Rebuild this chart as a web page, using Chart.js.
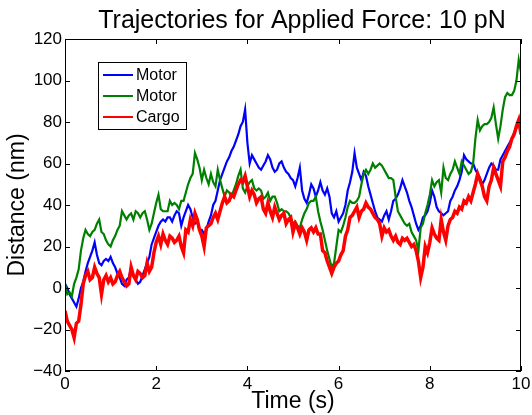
<!DOCTYPE html>
<html>
<head>
<meta charset="utf-8">
<script src="https://cdn.jsdelivr.net/npm/chart.js@4.4.0/dist/chart.umd.min.js"></script>
<style>
html, body { margin: 0; padding: 0; background: #fff; }
</style>
</head>
<body>
<canvas id="trajChart" width="532" height="415"></canvas>
<script>
// one sample every 0.05 s
const STEP = 0.05;

const motor1 = [
  2, 0, -3, -5, -7, -9, -5, 0, 3, 8,
  12, 15, 18, 22, 16, 12, 11, 13, 14, 13,
  15, 12, 10, 7, 5, 2, 1, 4, 5, 10,
  6, 4, 2, 3, 6, 9, 12, 15, 21, 24,
  27, 30, 32, 33, 32, 34, 34, 32, 35, 37,
  36, 30, 34, 37, 40, 38, 34, 31, 32, 28,
  28, 26, 28, 32, 35, 40, 42, 47, 52, 55,
  58, 61, 63, 66, 68, 71, 74, 78, 80, 86,
  70, 60, 64, 62, 60, 58, 57, 59, 61, 64,
  62, 58, 56, 57, 60, 61, 58, 56, 55, 53,
  52, 49, 53, 58, 47, 43, 41, 45, 50, 48,
  44, 47, 51, 47, 45, 48, 44, 36, 34, 37,
  32, 34, 36, 40, 47, 51, 56, 65, 58, 55,
  52, 56, 54, 49, 45, 41, 37, 34, 33, 32,
  35, 37, 33, 37, 42, 43, 45, 48, 52, 49,
  46, 42, 39, 35, 31, 28, 30, 34, 35, 37,
  41, 47, 44, 39, 37, 36, 35, 36, 37, 42,
  44, 47, 49, 52, 56, 64, 62, 61, 60, 60,
  57, 55, 53, 50, 52, 55, 58, 60, 59, 57,
  57, 62, 64, 66, 68, 70, 72, 75, 77, 80,
  80
];

const motor2 = [
  2, -3, -2, -4, 2, 5, 9, 18, 24, 28,
  26, 25, 27, 28, 31, 33, 27, 26, 23, 21,
  20, 23, 25, 28, 30, 37, 35, 33, 35, 36,
  33, 37, 36, 34, 36, 37, 33, 28, 31, 36,
  41, 45, 38, 37, 37, 37, 42, 40, 41, 40,
  38, 42, 42, 46, 50, 53, 55, 65, 62, 58,
  52, 57, 53, 50, 55, 51, 49, 57, 52, 48,
  44, 47, 46, 44, 47, 50, 54, 57, 48, 46,
  49, 51, 52, 48, 47, 48, 47, 43, 44, 46,
  42, 44, 44, 41, 37, 38, 37, 37, 36, 34,
  31, 32, 30, 29, 33, 36, 38, 41, 42, 42,
  44, 37, 32, 28, 23, 18, 14, 10, 12, 20,
  28, 27, 30, 34, 39, 42, 41, 41, 42, 44,
  50, 55, 57, 55, 57, 60, 58, 59, 60, 59,
  57, 55, 53, 53, 52, 44, 37, 35, 33, 31,
  30, 31, 27, 25, 23, 18, 29, 31, 36, 40,
  45, 52, 49, 51, 52, 46, 58, 53, 52, 55,
  57, 61, 58, 55, 61, 59, 57, 55, 56, 60,
  72, 81, 76, 78, 79, 79, 80, 82, 87, 79,
  72, 78, 86, 92, 94, 93, 93, 95, 100, 110,
  104
];

const cargo = [
  -11, -16, -18, -20, -24, -17, -16, -8, 2, 6,
  8, 4, 5, 10, 7, 5, -3, 4, 6, 3,
  5, 2, 3, 6, 8, 5, 3, 1, 2, 10,
  6, 4, 8, 7, 5, 6, 12, 8, 10, 17,
  22, 25, 21, 26, 23, 21, 25, 24, 22, 23,
  25, 20, 17, 28, 27, 33, 30, 36, 33, 28,
  25, 20, 29, 30, 31, 34, 36, 33, 37, 41,
  44, 41, 42, 45, 44, 47, 50, 52, 51, 54,
  49, 44, 47, 45, 41, 43, 44, 38, 36, 41,
  37, 34, 39, 36, 33, 35, 36, 31, 33, 34,
  27, 31, 29, 26, 29, 27, 23, 28, 29, 27,
  29, 26, 26, 18, 17, 13, 10, 7, 10, 12,
  13, 16, 18, 25, 28, 34, 35, 37, 39, 34,
  37, 38, 41, 39, 38, 36, 34, 33, 31, 25,
  29, 27, 28, 25, 23, 25, 22, 21, 24, 23,
  24, 22, 20, 21, 18, 13, 5, 10, 20, 17,
  22, 29, 26, 24, 23, 33, 27, 23, 30, 33,
  34, 37, 36, 39, 38, 42, 41, 44, 42, 46,
  50, 55, 52, 49, 44, 42, 49, 52, 58, 55,
  52, 49, 61, 63, 66, 68, 72, 74, 78, 81,
  74
];

const seriesNames = ['Motor', 'Motor', 'Cargo'];
const seriesColors = ['#0000ff', '#008000', '#ff0000'];
const xTicks = [0, 2, 4, 6, 8, 10];
const yTicks = [-40, -20, 0, 20, 40, 60, 80, 100, 120];
const titleText = 'Trajectories for Applied Force: 10 pN';

const FONT = '"Liberation Sans", Arial, Helvetica, sans-serif';

const time = motor1.map((_, i) => +(i * STEP).toFixed(2));

function toPoints(values) {
    return values.map((v, i) => ({ x: time[i], y: v }));
}

// caja, marcas hacia dentro, titulo y leyenda al estilo matlab
const matlabFrame = {
    id: 'matlabFrame',
    afterDraw(chart) {
        const { ctx, chartArea: a, scales } = chart;
        const len = 5;
        ctx.save();
        ctx.strokeStyle = '#000';
        ctx.lineWidth = 1;
        ctx.strokeRect(a.left + 0.5, a.top + 0.5, a.right - a.left - 1, a.bottom - a.top - 1);

        ctx.beginPath();
        xTicks.forEach(t => {
            const px = Math.round(scales.x.getPixelForValue(t)) + 0.5;
            ctx.moveTo(px, a.bottom); ctx.lineTo(px, a.bottom - len);
            ctx.moveTo(px, a.top); ctx.lineTo(px, a.top + len);
        });
        yTicks.forEach(t => {
            const py = Math.round(scales.y.getPixelForValue(t)) + 0.5;
            ctx.moveTo(a.left, py); ctx.lineTo(a.left + len, py);
            ctx.moveTo(a.right, py); ctx.lineTo(a.right - len, py);
        });
        ctx.stroke();

        // titulo
        ctx.fillStyle = '#000';
        ctx.font = '25px ' + FONT;
        ctx.textAlign = 'center';
        ctx.textBaseline = 'alphabetic';
        ctx.fillText(titleText, (a.left + a.right) / 2 + 9, 28);

        // leyenda dentro del area
        const bx = a.left + 33, by = a.top + 23, bw = 88, bh = 67;
        ctx.fillStyle = '#fff';
        ctx.fillRect(bx, by, bw, bh);
        ctx.strokeRect(bx + 0.5, by + 0.5, bw, bh);
        ctx.font = '16px ' + FONT;
        ctx.textAlign = 'left';
        ctx.textBaseline = 'middle';
        chart.data.datasets.forEach((ds, i) => {
            const y = by + 13 + i * 21;
            ctx.strokeStyle = ds.borderColor;
            ctx.lineWidth = 2;
            ctx.beginPath();
            ctx.moveTo(bx + 5, y); ctx.lineTo(bx + 35, y);
            ctx.stroke();
            ctx.fillStyle = '#000';
            ctx.fillText(ds.label, bx + 38, y + 1);
        });
        ctx.restore();
    }
};

const ctx = document.getElementById('trajChart').getContext('2d');

const chart = new Chart(ctx, {
    type: 'line',
    data: {
        datasets: [motor1, motor2, cargo].map((vals, i) => ({
            label: seriesNames[i],
            data: toPoints(vals),
            borderColor: seriesColors[i],
            borderWidth: i === 2 ? 3.5 : 2.2,
            pointRadius: 0,
            tension: 0,
            fill: false,
            order: 3 - i
        }))
    },
    options: {
        responsive: false,
        animation: false,
        devicePixelRatio: 1,
        layout: { padding: { top: 39, right: 11, left: 0, bottom: 0 } },
        plugins: {
            legend: { display: false },
            tooltip: { enabled: false },
            title: { display: false }
        },
        scales: {
            x: {
                type: 'linear',
                min: 0,
                max: 10,
                afterBuildTicks: scale => { scale.ticks = xTicks.map(v => ({ value: v })); },
                afterFit: scale => {
                    scale.height = 44;
                    scale.paddingLeft = 0;
                    scale.paddingRight = 0;
                },
                grid: { display: false, drawTicks: false, tickLength: 0 },
                border: { display: false },
                ticks: { color: '#000', padding: 3, maxRotation: 0, font: { size: 17, family: FONT } },
                title: {
                    display: true,
                    text: 'Time (s)',
                    color: '#000',
                    font: { size: 23, family: FONT },
                    padding: { top: 0, bottom: 0 }
                }
            },
            y: {
                type: 'linear',
                min: -40,
                max: 120,
                afterBuildTicks: scale => { scale.ticks = yTicks.map(v => ({ value: v })); },
                afterFit: scale => { scale.width = 65; },
                grid: { display: false, drawTicks: false, tickLength: 0 },
                border: { display: false },
                ticks: {
                    color: '#000',
                    padding: 3,
                    font: { size: 17, family: FONT },
                    callback: v => String(v).replace('-', '\u2212')
                },
                title: {
                    display: true,
                    text: 'Distance (nm)',
                    color: '#000',
                    font: { size: 23, family: FONT },
                    padding: { top: 4, bottom: 0 }
                }
            }
        }
    },
    plugins: [matlabFrame]
});
</script>
</body>
</html>
